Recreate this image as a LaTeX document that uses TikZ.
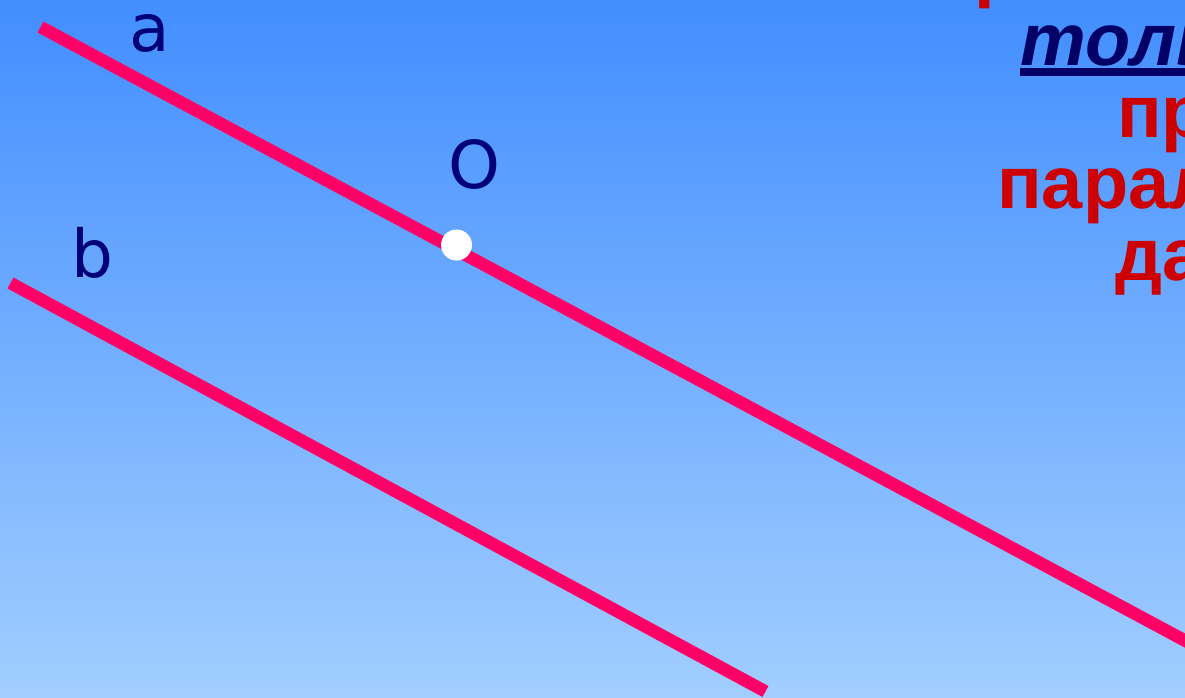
\documentclass[tikz,border=0pt]{standalone}
\usepackage{fontspec}
\newfontfamily\lblfont{DejaVu Sans}
\newfontfamily\txtfont{Liberation Sans}
\definecolor{bgtop}{RGB}{66,142,255}
\definecolor{bgbot}{RGB}{162,206,255}
\definecolor{linecol}{RGB}{255,0,102}
\definecolor{navy}{RGB}{0,0,120}
\definecolor{textred}{RGB}{204,0,0}
\definecolor{textnavy}{RGB}{0,0,102}
\begin{document}
\begin{tikzpicture}[x=1pt,y=-1pt,
  straight/.style={draw=linecol,line width=12.5pt,line cap=butt},
  ptlabel/.style={text=navy,font=\lblfont\fontsize{66}{70}\selectfont,inner sep=0pt},
  redline/.style={text=textred,font=\txtfont\bfseries\fontsize{74}{72}\selectfont,inner sep=0pt,anchor=base west},
  blueline/.style={text=textnavy,font=\txtfont\bfseries\itshape\fontsize{74}{72}\selectfont,inner sep=0pt,anchor=base west}]
\useasboundingbox (0,0) rectangle (1185,697);
\shade[top color=bgtop,bottom color=bgbot] (0,0) rectangle (1185,697);
\clip (0,0) rectangle (1185,697);
% lines
\coordinate (a1) at (40.5,27);
\coordinate (a2) at (1210,654);
\coordinate (b1) at (10.5,283);
\coordinate (b2) at (765.5,691.5);
\draw[straight] (a1) -- (a2);
\draw[straight] (b1) -- (b2);
\node[circle,fill=white,minimum size=31pt,inner sep=0pt] (O) at (456.5,245) {};
% labels
\node[ptlabel] (la) at (150,33) {a};
\node[ptlabel] (lO) at (474,164) {O};
\node[ptlabel] (lb) at (92,253) {b};
% text on the right
\node[redline] (t0) at (930,-7) {прямой, проходит};
\node[blueline] (t1) at (1020,65) {только одна};
\draw[textnavy,line width=7.5pt] ([yshift=-7pt]t1.base west) -- ([yshift=-7pt]t1.base east);
\node[redline] (t2) at (1117,137) {прямая,};
\node[redline] (t3) at (997,208) {параллельная};
\node[redline] (t4) at (1115,280) {данной.};
\end{tikzpicture}
\end{document}
